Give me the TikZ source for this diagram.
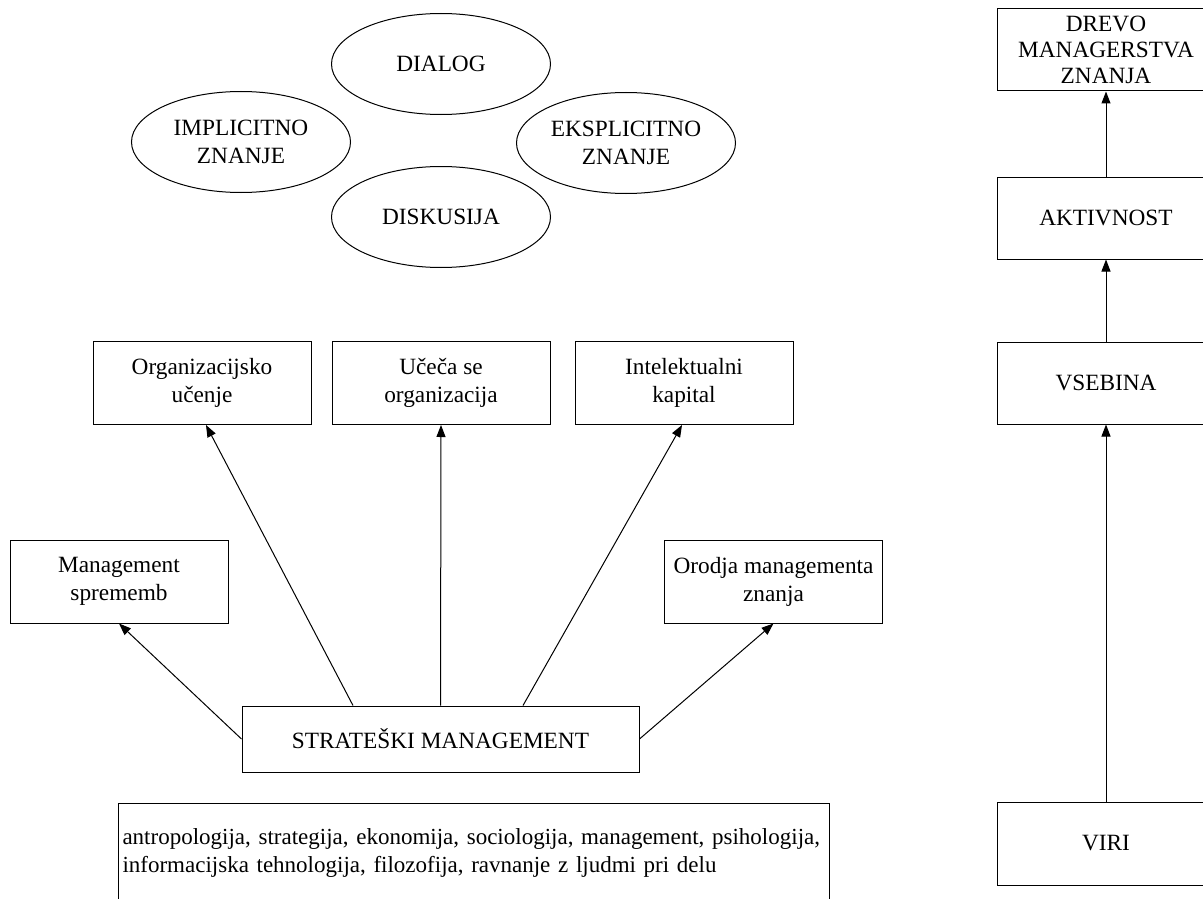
\documentclass[tikz,border=0pt]{standalone}
\usepackage{fontspec}
\setmainfont{Liberation Serif}
\usetikzlibrary{arrows.meta,shapes.geometric}
\begin{document}
\begin{tikzpicture}[x=1pt,y=-1pt,
  every node/.style={font=\fontsize{23.3}{28}\selectfont},
  box/.style={draw,line width=1pt,minimum width=218pt,minimum height=83pt,inner sep=0pt,align=center},
  oval/.style={draw,ellipse,line width=1pt,minimum width=219pt,minimum height=101pt,inner sep=0pt,align=center},
  arr/.style={line width=1pt,-{Triangle[length=12pt,width=9pt]}}]
\clip (0,0) rectangle (1203,899);
% ellipses
\node[oval] (dialog) at (441,64) {DIALOG};
\node[oval] (impl) at (241,142) {IMPLICITNO\\ZNANJE};
\node[oval] (ekspl) at (626,143) {EKSPLICITNO\\ZNANJE};
\node[oval] (disk) at (441,217) {DISKUSIJA};
% boxes
\node[box] (org) at (202,383) {Organizacijsko\\učenje};
\node[box] (uce) at (441,383) {Učeča se\\organizacija};
\node[box] (int) at (684,383) {Intelektualni\\kapital};
\node[box] (mgmt) at (119,581.5) {Management\\sprememb};
\node[box] (oro) at (773.5,581.5) {Orodja managementa\\znanja};
\node[box,minimum width=397pt,minimum height=66pt] (str) at (440.5,739) {STRATEŠKI MANAGEMENT};
\node[draw,line width=1pt,anchor=north west,minimum width=711pt,minimum height=98pt,
  text width=703pt,inner xsep=4pt,inner ysep=0pt,align=left,font=\fontsize{23}{28}\selectfont] (disc) at (118,803)
  {\mbox{antropologija, strategija, ekonomija, sociologija, management, psihologija,}\\\mbox{informacijska tehnologija, filozofija, ravnanje z ljudmi pri delu}};
% right column
\node[box,font=\fontsize{23.3}{26}\selectfont,minimum height=82pt] (drevo) at (1106,50) {DREVO\\MANAGERSTVA\\ZNANJA};
\node[box,minimum height=82pt] (akt) at (1106,218) {AKTIVNOST};
\node[box,minimum height=82pt] (vse) at (1106,383) {VSEBINA};
\node[box] (viri) at (1106,843.5) {VIRI};
% arrows
\draw[arr] ([xshift=-87.5pt]str.north) -- ([xshift=4pt]org.south);
\draw[arr] (str.north) -- (uce.south);
\draw[arr] ([xshift=82.5pt]str.north) -- ([xshift=-2pt]int.south);
\draw[arr] (str.west) -- (mgmt.south);
\draw[arr] (str.east) -- (oro.south);
\draw[arr] (viri.north) -- (vse.south);
\draw[arr] (vse.north) -- (akt.south);
\draw[arr] (akt.north) -- (drevo.south);
\end{tikzpicture}
\end{document}
